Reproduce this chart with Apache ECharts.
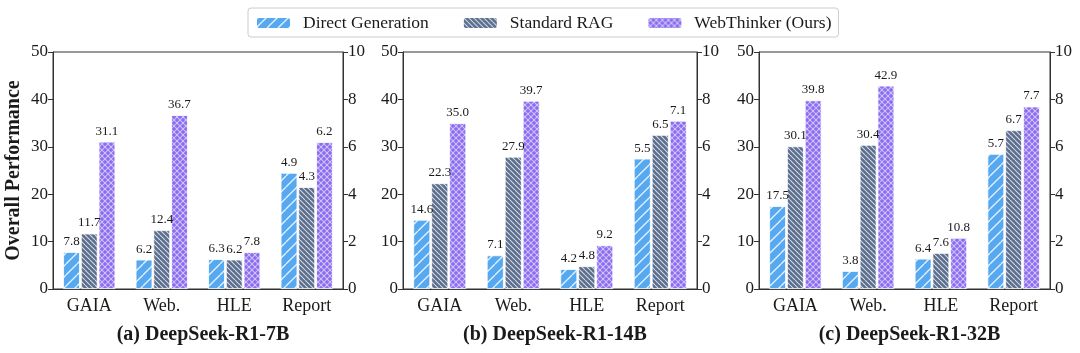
<!DOCTYPE html>
<html lang="en">
<head>
  <meta charset="UTF-8">
  <title>webthinker bars</title>
  <style>
    html, body, #chart {
      margin: 0;
      padding: 0;
      width: 1080px;
      height: 353px;
      background: #fff;
    }
  </style>
</head>
<body>
<div id="chart"></div>

<script src="https://cdn.jsdelivr.net/npm/echarts@6/dist/echarts.min.js"></script>
<script>
  var categories = ['GAIA', 'Web.', 'HLE', 'Report'];
  var methods = ['Direct Generation', 'Standard RAG', 'WebThinker (Ours)'];
  var panelTitles = ['(a) DeepSeek-R1-7B', '(b) DeepSeek-R1-14B', '(c) DeepSeek-R1-32B'];
  var leftTicks = [0, 50, 10];   // min, max, interval (GAIA / Web. / HLE)
  var rightTicks = [0, 10, 2];   // min, max, interval (Report)

  // values per panel: GAIA, Web., HLE, Report
  var direct7B = [7.8, 6.2, 6.3, 4.9];
  var rag7B = [11.7, 12.4, 6.2, 4.3];
  var ours7B = [31.1, 36.7, 7.8, 6.2];

  var direct14B = [14.6, 7.1, 4.2, 5.5];
  var rag14B = [22.3, 27.9, 4.8, 6.5];
  var ours14B = [35.0, 39.7, 9.2, 7.1];

  var direct32B = [17.5, 3.8, 6.4, 5.7];
  var rag32B = [30.1, 30.4, 7.6, 6.7];
  var ours32B = [39.8, 42.9, 10.8, 7.7];

  var panels = [
    [direct7B, rag7B, ours7B],
    [direct14B, rag14B, ours14B],
    [direct32B, rag32B, ours32B]
  ];

  var FONT = '"Liberation Serif", "DejaVu Serif", serif';

  // hatch fills, like matplotlib hatches
  function hatch(bg, size, lw, alpha, dirs) {
    var c = document.createElement('canvas');
    c.width = size;
    c.height = size;
    var ctx = c.getContext('2d');
    ctx.fillStyle = bg;
    ctx.fillRect(0, 0, size, size);
    ctx.strokeStyle = 'rgba(255,255,255,' + alpha + ')';
    ctx.lineWidth = lw;
    dirs.forEach(function (d) {
      for (var k = -1; k <= 1; k++) {
        ctx.beginPath();
        if (d === '/') {
          ctx.moveTo(k * size, size);
          ctx.lineTo(k * size + size, 0);
        } else {
          ctx.moveTo(k * size, 0);
          ctx.lineTo(k * size + size, size);
        }
        ctx.stroke();
      }
    });
    return { image: c, repeat: 'repeat' };
  }

  var fills = [
    hatch('#56a9f0', 11, 1.3, 0.85, ['/']),
    hatch('#5b6e8e', 5, 1.1, 0.75, ['\\']),
    hatch('#8b6cf0', 6, 1.1, 0.55, ['/', '\\'])
  ];

  var grids = [
    { left: 53, width: 290, top: 52, height: 237 },
    { left: 403, width: 294, top: 52, height: 237 },
    { left: 759, width: 291, top: 52, height: 237 }
  ];

  var xAxes = [], yAxes = [], series = [], titles = [];

  grids.forEach(function (g, p) {
    g.show = true;
    g.borderColor = '#333';
    g.borderWidth = 1;

    // visible axis for GAIA/Web./HLE, hidden twin for Report on the right scale
    xAxes.push({
      type: 'category', gridIndex: p, data: categories,
      axisLine: { lineStyle: { color: '#333' } },
      axisTick: { alignWithLabel: true, length: 4, lineStyle: { color: '#333' } },
      axisLabel: { color: '#1a1a1a', fontFamily: FONT, fontSize: 18, margin: 8 }
    });
    xAxes.push({ type: 'category', gridIndex: p, data: categories, show: false });

    yAxes.push({
      type: 'value', gridIndex: p, position: 'left',
      min: leftTicks[0], max: leftTicks[1], interval: leftTicks[2],
      name: p === 0 ? 'Overall Performance' : '',
      nameLocation: 'middle', nameGap: 29,
      nameTextStyle: { color: '#1a1a1a', fontFamily: FONT, fontSize: 20, fontWeight: 'bold' },
      axisLine: { show: true, lineStyle: { color: '#333' } },
      axisTick: { show: true, length: 5, lineStyle: { color: '#333' } },
      axisLabel: { color: '#1a1a1a', fontFamily: FONT, fontSize: 17, margin: 5 },
      splitLine: { show: false }
    });
    yAxes.push({
      type: 'value', gridIndex: p, position: 'right',
      min: rightTicks[0], max: rightTicks[1], interval: rightTicks[2],
      axisLine: { show: true, lineStyle: { color: '#333' } },
      axisTick: { show: true, length: 5, lineStyle: { color: '#333' } },
      axisLabel: { color: '#1a1a1a', fontFamily: FONT, fontSize: 17, margin: 5 },
      splitLine: { show: false }
    });

    panels[p].forEach(function (vals, m) {
      var base = {
        name: methods[m],
        type: 'bar',
        barCategoryGap: '28%',
        barGap: '6%',
        itemStyle: { color: fills[m], borderColor: '#fff', borderWidth: 0.8 },
        label: {
          show: true, position: 'top', distance: 4,
          color: '#1a1a1a', fontFamily: FONT, fontSize: 13,
          formatter: function (d) { return d.value.toFixed(1); }
        },
        silent: true,
        animation: false
      };
      series.push(Object.assign({}, base, {
        xAxisIndex: p * 2, yAxisIndex: p * 2,
        data: vals.map(function (v, i) { return i < 3 ? v : '-'; })
      }));
      series.push(Object.assign({}, base, {
        xAxisIndex: p * 2 + 1, yAxisIndex: p * 2 + 1,
        data: vals.map(function (v, i) { return i === 3 ? v : '-'; })
      }));
    });

    titles.push({
      text: panelTitles[p],
      left: g.left + g.width / 2,
      textAlign: 'center',
      top: 320,
      textStyle: { color: '#1a1a1a', fontFamily: FONT, fontSize: 20, fontWeight: 'bold' }
    });
  });

  var chart = echarts.init(document.getElementById('chart'), null, { renderer: 'canvas' });
  chart.setOption({
    animation: false,
    title: titles,
    legend: {
      data: methods,
      left: 248, top: 8,
      padding: [6, 7, 5, 7],
      itemWidth: 35, itemHeight: 12, itemGap: 33,
      borderColor: '#ccc', borderWidth: 1, borderRadius: 3,
      textStyle: { color: '#1a1a1a', fontFamily: FONT, fontSize: 17.5, padding: [0, 0, 0, 7] },
      selectedMode: false
    },
    grid: grids,
    xAxis: xAxes,
    yAxis: yAxes,
    series: series
  });
</script>
</body>
</html>
